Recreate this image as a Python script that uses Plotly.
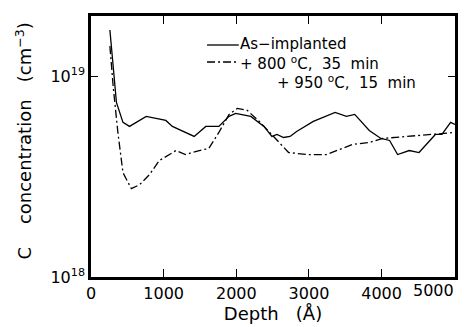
import plotly.graph_objects as go

# As-implanted profile: depth (Å), log10 C concentration (cm^-3)
depth_as = [260, 350, 440, 530, 760, 1030, 1120, 1420, 1580, 1760, 1900, 1990, 2200, 2380,
            2490, 2560, 2650, 2740, 2830, 3060, 3360, 3515, 3630, 3830, 3990, 4110, 4220,
            4380, 4515, 4740, 4830, 4950, 5010]
logc_as = [19.23, 18.87, 18.77, 18.75, 18.80, 18.78, 18.75, 18.70, 18.75, 18.75, 18.80, 18.815,
           18.80, 18.75, 18.70, 18.71, 18.695, 18.70, 18.725, 18.775, 18.82, 18.80, 18.81,
           18.73, 18.69, 18.68, 18.61, 18.63, 18.62, 18.71, 18.71, 18.77, 18.76]

# + 800 °C 35 min + 950 °C 15 min profile
depth_ann = [260, 305, 370, 440, 555, 670, 805, 940, 1170, 1300, 1490, 1620, 1760, 1900,
             2015, 2150, 2330, 2515, 2720, 2970, 3240, 3600, 3830, 4015, 4380, 4650, 5010]
logc_ann = [19.15, 18.95, 18.72, 18.52, 18.44, 18.46, 18.51, 18.58, 18.63, 18.61, 18.63, 18.64,
            18.72, 18.81, 18.84, 18.83, 18.77, 18.70, 18.62, 18.61, 18.61, 18.66, 18.67, 18.69,
            18.70, 18.71, 18.72]

conc_as = [10 ** v for v in logc_as]
conc_ann = [10 ** v for v in logc_ann]

x_ticks = [0, 1000, 2000, 3000, 4000]
x_ticktext = ["0", "1000", "2000", "3000", "4000"]
y_ticks = [1e18, 1e19]
y_ticktext = ["10<sup>18</sup>", "10<sup>19</sup>"]

FONT = "DejaVu Sans, sans-serif"
DASHDOT = "8px,3px,2px,3px"
NB = "&nbsp;"

# plot-area geometry in pixels (for placement in paper coords)
L, R, T, B = 91, 458, 16, 277
def px(x):
    return (x - L) / (R - L)
def py(y):
    return (B - y) / (B - T)

fig = go.Figure()
fig.add_trace(go.Scatter(x=depth_as, y=conc_as, mode="lines",
                         line=dict(color="black", width=1.3), name="As-implanted",
                         showlegend=False))
fig.add_trace(go.Scatter(x=depth_ann, y=conc_ann, mode="lines",
                         line=dict(color="black", width=1.3, dash=DASHDOT),
                         name="+ 800 °C, 35 min + 950 °C, 15 min", showlegend=False))

fig.update_layout(
    width=464, height=327,
    margin=dict(l=L, r=464 - R, t=T, b=327 - B),
    paper_bgcolor="white", plot_bgcolor="white",
    font=dict(family=FONT, size=16, color="black"),
    xaxis=dict(range=[0, 5010], tickvals=x_ticks, ticktext=x_ticktext,
               ticks="inside", ticklen=8, tickwidth=1.3, tickcolor="black",
               showline=True, linewidth=2.5, linecolor="black", mirror="ticks",
               showgrid=False, zeroline=False, tickfont=dict(size=16),
               title=dict(text="Depth" + NB * 3 + "(Å)", standoff=4, font=dict(size=18))),
    yaxis=dict(type="log", range=[18, 19.3], tickvals=y_ticks, ticktext=y_ticktext,
               ticks="inside", ticklen=7, tickwidth=1.3, tickcolor="black",
               showline=True, linewidth=2.5, linecolor="black", mirror="ticks",
               showgrid=False, zeroline=False, tickfont=dict(size=16)),
)

# y-axis title
fig.add_annotation(x=px(23), y=py(141), xref="paper", yref="paper", textangle=-90,
                   xanchor="center", yanchor="middle", showarrow=False,
                   text="C" + NB * 4 + "concentration" + NB * 3 + "(cm<sup>−3</sup>)",
                   font=dict(size=18))

# "5000" label sits just inside the right end
fig.add_annotation(x=4710, y=0, xref="x", yref="paper", yanchor="top", yshift=-2,
                   text="5000", showarrow=False, font=dict(size=16))

# Legend (key lines + text)
fig.add_shape(type="line", xref="paper", yref="paper", x0=px(208), x1=px(240),
              y0=py(45), y1=py(45), line=dict(color="black", width=1.3))
fig.add_shape(type="line", xref="paper", yref="paper", x0=px(208), x1=px(238),
              y0=py(62), y1=py(62), line=dict(color="black", width=1.3, dash=DASHDOT))
fig.add_annotation(x=px(240), y=py(54), xref="paper", yref="paper",
                   xanchor="left", yanchor="bottom", text="As−implanted", showarrow=False,
                   font=dict(size=15), borderpad=0)
fig.add_annotation(x=px(240), y=py(52), xref="paper", yref="paper",
                   xanchor="left", yanchor="top",
                   text="+ 800 <sup>o</sup>C," + NB * 2 + "35" + NB * 2 + "min",
                   showarrow=False, font=dict(size=15), borderpad=0)
fig.add_annotation(x=px(278), y=py(71), xref="paper", yref="paper",
                   xanchor="left", yanchor="top",
                   text="+ 950 <sup>o</sup>C," + NB * 2 + "15" + NB * 2 + "min",
                   showarrow=False, font=dict(size=15), borderpad=0)

fig.write_html("out.html")
